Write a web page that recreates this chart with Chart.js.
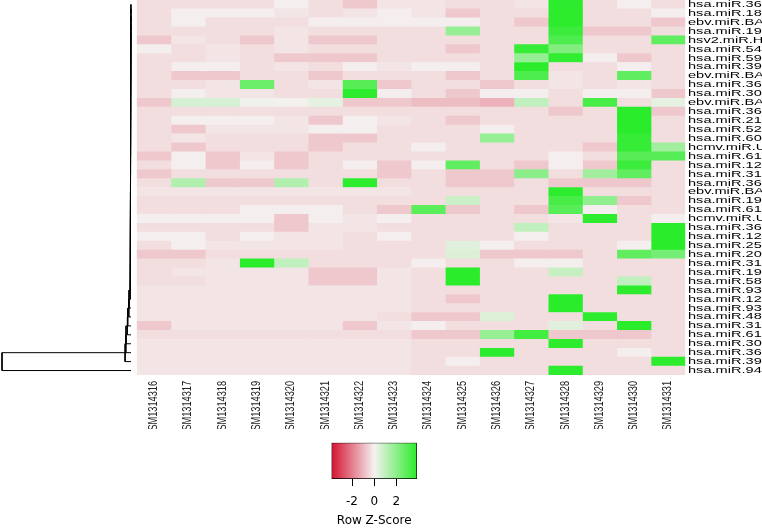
<!DOCTYPE html>
<html lang="en">
<head>
<meta charset="UTF-8">
<title>Row Z-Score heatmap</title>
<script src="https://cdn.jsdelivr.net/npm/chart.js"></script>
<style>
    body { margin: 0; background: #fff; }
    #wrap { position: relative; width: 762px; height: 528px; overflow: hidden; }
    canvas { position: absolute; }
</style>
<script>
    // row / column names (right side labels are cut at the page edge)
    const rowLabels = ["hsa.miR.36","hsa.miR.18","ebv.miR.BA","hsa.miR.19","hsv2.miR.H","hsa.miR.54","hsa.miR.59",
        "hsa.miR.39","ebv.miR.BA","hsa.miR.36","hsa.miR.30","ebv.miR.BA","hsa.miR.36","hsa.miR.21","hsa.miR.52",
        "hsa.miR.60","hcmv.miR.U","hsa.miR.61","hsa.miR.12","hsa.miR.31","hsa.miR.36","ebv.miR.BA","hsa.miR.19",
        "hsa.miR.61","hcmv.miR.U","hsa.miR.36","hsa.miR.12","hsa.miR.25","hsa.miR.20","hsa.miR.31","hsa.miR.19",
        "hsa.miR.58","hsa.miR.93","hsa.miR.12","hsa.miR.93","hsa.miR.48","hsa.miR.31","hsa.miR.61","hsa.miR.30",
        "hsa.miR.36","hsa.miR.39","hsa.miR.94"];
    const sampleLabels = ["GSM1314316","GSM1314317","GSM1314318","GSM1314319","GSM1314320","GSM1314321",
        "GSM1314322","GSM1314323","GSM1314324","GSM1314325","GSM1314326","GSM1314327","GSM1314328",
        "GSM1314329","GSM1314330","GSM1314331"];

    // row z-scores, one array per sample, rows top to bottom
    const gsm316 = [-0.35,-0.35,-0.35,-0.35,-0.7,-0.05,-0.35,-0.35,-0.35,-0.35,
        -0.35,-0.7,-0.35,-0.35,-0.35,-0.35,-0.35,-0.7,-0.35,-0.7,
        -0.35,-0.22,-0.35,-0.35,-0.05,-0.35,-0.05,-0.35,-0.7,-0.35,
        -0.35,-0.35,-0.22,-0.22,-0.22,-0.22,-0.7,-0.35,-0.22,-0.22,-0.22,-0.22];
    const gsm317 = [-0.35,-0.05,-0.05,-0.35,-0.22,-0.35,-0.35,-0.05,-0.7,-0.35,
        -0.05,0.6,-0.35,-0.05,-0.7,-0.22,-0.7,-0.05,-0.05,-0.35,
        1.3,-0.22,-0.35,-0.35,-0.05,-0.35,-0.05,-0.05,-0.7,-0.35,
        -0.22,-0.35,-0.22,-0.22,-0.22,-0.22,-0.22,-0.35,-0.22,-0.22,-0.22,-0.22];
    const gsm318 = [-0.35,-0.05,-0.35,-0.35,-0.35,-0.22,-0.22,-0.05,-0.7,-0.22,
        -0.22,0.6,-0.35,-0.05,-0.22,-0.35,-0.35,-0.7,-0.7,-0.35,
        -0.7,-0.22,-0.35,-0.35,-0.05,-0.35,-0.35,-0.22,-0.35,-0.22,
        -0.22,-0.22,-0.22,-0.22,-0.22,-0.22,-0.22,-0.35,-0.22,-0.22,-0.22,-0.22];
    const gsm319 = [-0.35,-0.05,-0.35,-0.35,-0.7,-0.35,-0.35,-0.35,-0.35,2.6,
        -0.22,0.1,-0.35,-0.05,-0.22,-0.35,-0.35,-0.22,-0.05,-0.35,
        -0.7,-0.22,-0.35,-0.05,-0.05,-0.35,-0.05,-0.22,-0.35,3.9,
        -0.22,-0.22,-0.22,-0.22,-0.22,-0.22,-0.22,-0.35,-0.22,-0.22,-0.22,-0.22];
    const gsm320 = [-0.05,-0.22,-0.35,-0.22,-0.22,-0.22,-0.7,-0.22,-0.35,-0.35,
        -0.35,0.05,-0.35,-0.22,-0.22,-0.35,-0.35,-0.7,-0.7,-0.35,
        1.3,-0.22,-0.35,-0.05,-0.7,-0.7,-0.22,-0.22,-0.35,1.0,
        -0.22,-0.22,-0.22,-0.22,-0.22,-0.22,-0.22,-0.35,-0.22,-0.22,-0.22,-0.22];
    const gsm321 = [-0.35,-0.35,-0.05,-0.35,-0.7,-0.35,-0.7,-0.35,-0.7,-0.22,
        -0.35,0.3,-0.35,-0.7,-0.05,-0.7,-0.7,-0.35,-0.35,-0.35,
        -0.35,-0.22,-0.35,-0.05,-0.05,-0.22,-0.22,-0.22,-0.35,-0.35,
        -0.7,-0.7,-0.22,-0.22,-0.22,-0.22,-0.22,-0.35,-0.22,-0.22,-0.22,-0.22];
    const gsm322 = [-0.7,-0.22,-0.05,-0.35,-0.7,-0.35,-0.7,-0.05,-0.35,3.0,
        3.8,-0.7,-0.35,-0.05,-0.05,-0.7,-0.35,-0.35,-0.05,-0.35,
        3.8,-0.22,-0.35,-0.35,-0.22,-0.22,-0.35,-0.35,-0.35,-0.35,
        -0.7,-0.7,-0.22,-0.22,-0.22,-0.22,-0.7,-0.35,-0.22,-0.22,-0.22,-0.22];
    const gsm323 = [-0.22,-0.05,-0.05,-0.35,-0.35,-0.35,-0.35,-0.22,-0.35,-0.7,
        -0.05,-0.7,-0.35,-0.22,-0.35,-0.35,-0.35,-0.35,-0.7,-0.7,
        -0.35,-0.22,-0.35,-0.7,-0.05,-0.35,-0.05,-0.35,-0.35,-0.35,
        -0.22,-0.22,-0.22,-0.22,-0.22,-0.35,-0.22,-0.35,-0.22,-0.22,-0.22,-0.22];
    const gsm324 = [-0.22,-0.22,-0.05,-0.35,-0.35,-0.35,-0.35,-0.05,-0.35,-0.35,
        -0.35,-0.9,-0.35,-0.35,-0.35,-0.35,-0.05,-0.35,-0.05,-0.35,
        -0.35,-0.35,-0.35,2.9,-0.35,-0.35,-0.35,-0.35,-0.35,-0.05,
        -0.35,-0.35,-0.35,-0.35,-0.35,-0.7,-0.05,-0.7,-0.35,-0.35,-0.35,-0.35];
    const gsm325 = [-0.35,-0.7,-0.05,1.8,-0.35,-0.7,-0.35,-0.05,-0.7,-0.35,
        -0.7,-0.9,-0.35,-0.7,-0.35,-0.35,-0.35,-0.35,2.8,-0.7,
        -0.7,-0.35,0.8,-0.7,-0.35,-0.35,-0.35,0.4,0.5,-0.35,
        3.9,3.9,-0.35,-0.7,-0.35,-0.7,-0.35,-0.7,-0.35,-0.35,-0.05,-0.35];
    const gsm326 = [-0.35,-0.35,-0.35,-0.35,-0.35,-0.35,-0.35,-0.35,-0.35,-0.7,
        -0.05,-1.1,-0.35,-0.35,-0.05,1.8,-0.35,-0.35,-0.35,-0.7,
        -0.7,-0.35,-0.35,-0.35,-0.35,-0.35,-0.35,-0.05,-0.7,-0.35,
        -0.35,-0.35,-0.35,-0.35,-0.35,0.5,-0.35,1.8,-0.35,3.8,-0.35,-0.35];
    const gsm327 = [-0.22,-0.35,-0.7,-0.35,-0.35,3.6,1.8,3.9,3.2,-0.35,
        -0.05,1.0,-0.35,-0.35,-0.35,-0.35,-0.35,-0.35,-0.7,2.0,
        -0.35,-0.35,-0.35,-0.7,-0.35,1.0,-0.05,-0.35,-0.7,-0.05,
        -0.35,-0.35,-0.35,-0.35,-0.35,-0.35,-0.35,3.4,-0.35,-0.35,-0.35,-0.35];
    const gsm328 = [3.8,3.8,3.8,3.5,3.2,2.2,3.7,-0.35,-0.22,-0.22,
        -0.35,-0.35,-0.7,-0.35,-0.35,-0.35,-0.35,-0.05,-0.05,-0.35,
        -0.7,3.8,3.3,3.0,-0.22,-0.35,-0.35,-0.35,-0.7,-0.05,
        0.9,-0.35,-0.35,3.9,3.9,-0.35,0.4,-0.7,3.8,-0.35,-0.35,3.8];
    const gsm329 = [-0.35,-0.35,-0.35,-0.7,-0.35,-0.35,-0.05,-0.35,-0.35,-0.35,
        -0.05,3.3,-0.35,-0.35,-0.35,-0.35,-0.7,-0.35,-0.7,1.6,
        -0.7,-0.35,1.9,-0.05,3.8,-0.35,-0.35,-0.35,-0.35,-0.35,
        -0.35,-0.35,-0.35,-0.35,-0.35,3.8,-0.35,-0.7,-0.35,-0.35,-0.35,-0.35];
    const gsm330 = [-0.05,-0.35,-0.35,-0.7,-0.35,-0.35,-0.7,-0.05,2.8,-0.22,
        -0.05,-0.35,3.9,3.9,3.9,3.6,3.6,3.0,3.5,2.8,
        -0.7,-0.35,-0.7,-0.35,-0.35,-0.35,-0.35,-0.05,2.8,-0.35,
        -0.35,1.0,3.8,-0.35,-0.35,-0.35,3.9,-0.7,-0.35,-0.05,-0.35,-0.35];
    const gsm331 = [-0.35,-0.05,-0.7,-0.35,2.8,-0.35,-0.35,-0.35,-0.35,-0.35,
        -0.7,0.3,-0.7,-0.35,-0.35,-0.35,1.6,3.0,-0.35,-0.35,
        -0.35,-0.35,-0.35,-0.35,-0.05,3.9,3.9,3.9,2.4,-0.35,
        -0.35,-0.35,-0.35,-0.35,-0.35,-0.35,-0.35,-0.35,-0.35,-0.35,3.8,-0.35];
    const samples = [gsm316, gsm317, gsm318, gsm319, gsm320, gsm321, gsm322, gsm323,
        gsm324, gsm325, gsm326, gsm327, gsm328, gsm329, gsm330, gsm331];

    // row dendrogram: rows join one by one (chain), heights of each join
    const mergeHeights = [0.005,0.008,0.01,0.012,0.015,0.018,0.02,0.022,0.025,0.028,
        0.03,0.032,0.034,0.036,0.038,0.04,0.042,0.044,0.046,0.048,
        0.05,0.052,0.054,0.056,0.058,0.06,0.062,0.064,0.066,0.068,
        0.07,0.075,0.08,0.2,0.22,0.33,0.36,0.5,0.52,0.6,12.9];

    // colour key
    const keyMin = -3.85, keyMax = 3.85;
    const keyTicks = [-2, 0, 2];

    const lowColor = [212, 18, 48], midColor = [245, 241, 241], highColor = [42, 236, 42];
    function zColor(z) {
        const t = Math.max(-1, Math.min(1, z / keyMax));
        const end = t < 0 ? lowColor : highColor;
        const a = Math.abs(t);
        const c = midColor.map((m, k) => Math.round(m + (end[k] - m) * a));
        return 'rgb(' + c.join(',') + ')';
    }

    // row names on the right, sample names under the cells
    const labelPlugin = {
        id: 'heatLabels',
        afterDraw(chart) {
            const ctx = chart.ctx, area = chart.chartArea;
            const xs = chart.scales.x, ys = chart.scales.y;
            ctx.save();
            ctx.fillStyle = '#000';
            ctx.font = '9px "Liberation Sans", Arial, sans-serif';
            ctx.textAlign = 'left';
            ctx.textBaseline = 'middle';
            rowLabels.forEach((t, i) => {
                ctx.save();
                ctx.translate(area.right + 2.7, ys.getPixelForValue(i));
                ctx.scale(1.62, 1);
                ctx.fillText(t, 0, 0);
                ctx.restore();
            });
            ctx.beginPath();
            ctx.rect(0, area.bottom, chart.width, 54);
            ctx.clip();
            ctx.fillStyle = '#222';
            ctx.font = '9.2px "Liberation Sans", Arial, sans-serif';
            ctx.textAlign = 'right';
            sampleLabels.forEach((t, j) => {
                ctx.save();
                ctx.translate(xs.getPixelForValue(j + 0.5), area.bottom + 6);
                ctx.rotate(-Math.PI / 2);
                ctx.scale(1, 1.3);
                ctx.fillText(t, 0, 0);
                ctx.restore();
            });
            ctx.restore();
        }
    };

    function dendroPoints() {
        const pts = [];
        let nodeY = 0.5, nodeH = 0;
        mergeHeights.forEach((h, m) => {
            const ly = m + 1.5;
            pts.push({x: nodeH, y: nodeY}, {x: h, y: nodeY}, {x: h, y: ly}, {x: 0, y: ly}, {x: null, y: null});
            nodeY = (nodeY + ly) / 2;
            nodeH = h;
        });
        return pts;
    }

    function keyGradient(c) {
        const chart = c.chart;
        const xs = chart.scales.x;
        if (!xs || !chart.chartArea) return '#fff';
        const g = chart.ctx.createLinearGradient(xs.getPixelForValue(keyMin), 0, xs.getPixelForValue(keyMax), 0);
        for (let k = 0; k <= 24; k++) {
            g.addColorStop(k / 24, zColor(keyMin + (keyMax - keyMin) * k / 24));
        }
        return g;
    }

    window.addEventListener('load', function () {
        new Chart(document.getElementById('heat'), {
            type: 'bar',
            data: {
                labels: rowLabels,
                datasets: samples.map((vals, j) => ({
                    label: sampleLabels[j],
                    data: vals.map(() => [j, j + 1]),
                    backgroundColor: vals.map(zColor),
                    borderWidth: 0,
                    barPercentage: 1,
                    categoryPercentage: 1,
                    grouped: false
                }))
            },
            options: {
                indexAxis: 'y',
                responsive: false,
                animation: false,
                layout: { padding: { left: 136.7, right: 76.7, top: 0, bottom: 153 } },
                scales: {
                    x: { type: 'linear', min: 0, max: 16, display: false },
                    y: { type: 'category', offset: true, display: false }
                },
                plugins: { legend: { display: false }, tooltip: { enabled: false } }
            },
            plugins: [labelPlugin]
        });

        new Chart(document.getElementById('dendro'), {
            type: 'scatter',
            data: {
                datasets: [{
                    data: dendroPoints(),
                    showLine: true,
                    spanGaps: false,
                    borderColor: '#000',
                    borderWidth: 1,
                    pointRadius: 0,
                    clip: false
                }]
            },
            options: {
                responsive: false,
                animation: false,
                layout: { padding: { left: 2, right: 6, top: 0, bottom: 0 } },
                scales: {
                    x: { type: 'linear', min: 0, max: 12.9, reverse: true, display: false },
                    y: { type: 'linear', min: 0, max: rowLabels.length, reverse: true, display: false }
                },
                plugins: { legend: { display: false }, tooltip: { enabled: false } }
            }
        });

        new Chart(document.getElementById('key'), {
            type: 'bar',
            data: {
                labels: [''],
                datasets: [{
                    data: [[keyMin, keyMax]],
                    backgroundColor: keyGradient,
                    borderColor: '#000',
                    borderWidth: 1,
                    borderSkipped: false,
                    barPercentage: 1,
                    categoryPercentage: 1
                }]
            },
            options: {
                indexAxis: 'y',
                responsive: false,
                animation: false,
                layout: { padding: { left: 31.5, right: 33.1, top: 12.7, bottom: 0 } },
                scales: {
                    x: {
                        type: 'linear', min: keyMin, max: keyMax,
                        afterBuildTicks: s => { s.ticks = keyTicks.map(v => ({ value: v })); },
                        afterFit: s => { s.height = 49; },
                        grid: { display: true, drawOnChartArea: false, drawTicks: true, tickLength: 7, color: '#000', lineWidth: 1 },
                        border: { display: false },
                        ticks: { padding: 9, color: '#000', autoSkip: false, maxRotation: 0,
                                 font: { family: 'DejaVu Sans', size: 12 }, callback: v => String(v) },
                        title: { display: true, text: 'Row Z-Score', color: '#000', padding: 0,
                                 font: { family: 'DejaVu Sans', size: 12 } }
                    },
                    y: { type: 'category', offset: true, display: false }
                },
                plugins: { legend: { display: false }, tooltip: { enabled: false } }
            }
        });
    });
</script>
</head>
<body>
<div id="wrap">
    <canvas id="heat" width="762" height="528" style="left:0;top:0;width:762px;height:528px"></canvas>
    <canvas id="dendro" width="137" height="375" style="left:0;top:0;width:137px;height:375px"></canvas>
    <canvas id="key" width="150" height="98" style="left:300px;top:430px;width:150px;height:98px"></canvas>
</div>
</body>
</html>
